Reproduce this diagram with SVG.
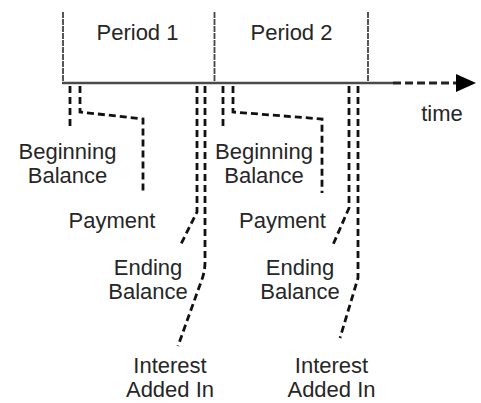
<svg xmlns="http://www.w3.org/2000/svg" width="481" height="403" viewBox="0 0 481 403">
<style>
.t{font-family:"Liberation Sans",Arial,sans-serif;font-size:22px;fill:#262626;text-anchor:middle}
.c{fill:none;stroke:#111;stroke-width:2.8;stroke-dasharray:7 4}
.b{fill:none;stroke:#444;stroke-width:1.8;stroke-dasharray:6 1}
</style>
<rect width="481" height="403" fill="#fff"/>
<g id="timeline">
<line x1="62" y1="83" x2="393" y2="83" stroke="#4a4a4a" stroke-width="2.6"/>
<line x1="393" y1="83" x2="457" y2="83" stroke="#222" stroke-width="2.8" stroke-dasharray="8 4"/>
<polygon points="456,74 476,83 456,92" fill="#000"/>
<text class="t" x="442" y="121">time</text>
</g>
<g id="period1">
<line class="b" x1="63" y1="12" x2="63" y2="83"/>
<text class="t" x="137.5" y="40">Period 1</text>
</g>
<g id="period2">
<line class="b" x1="214.5" y1="12" x2="214.5" y2="83"/>
<line class="b" x1="368" y1="12" x2="368" y2="83"/>
<text class="t" x="291.5" y="40">Period 2</text>
</g>
<g id="connectors">
<path class="c" d="M70,86 V130"/>
<path class="c" d="M80,86 V112 L143,119 V194"/>
<path class="c" d="M197,86 V212 L180,246"/>
<path class="c" d="M205,86 V262 Q205,272 201,282 L178,346"/>
<path class="c" d="M223,86 V130"/>
<path class="c" d="M233,86 V112 L322,119 V193"/>
<path class="c" d="M349,86 V208 L332,247"/>
<path class="c" d="M358,86 V278 L340,338"/>
</g>
<g id="p1-beginning"><text class="t" x="67.5" y="159">Beginning</text><text class="t" x="67.5" y="183">Balance</text></g>
<g id="p1-payment"><text class="t" x="112" y="228">Payment</text></g>
<g id="p1-ending"><text class="t" x="148" y="275">Ending</text><text class="t" x="148" y="299">Balance</text></g>
<g id="p1-interest"><text class="t" x="170" y="373">Interest</text><text class="t" x="170" y="397">Added In</text></g>
<g id="p2-beginning"><text class="t" x="264" y="159">Beginning</text><text class="t" x="264" y="183">Balance</text></g>
<g id="p2-payment"><text class="t" x="282.5" y="228">Payment</text></g>
<g id="p2-ending"><text class="t" x="300" y="275">Ending</text><text class="t" x="300" y="299">Balance</text></g>
<g id="p2-interest"><text class="t" x="331.5" y="373">Interest</text><text class="t" x="331.5" y="397">Added In</text></g>
</svg>
